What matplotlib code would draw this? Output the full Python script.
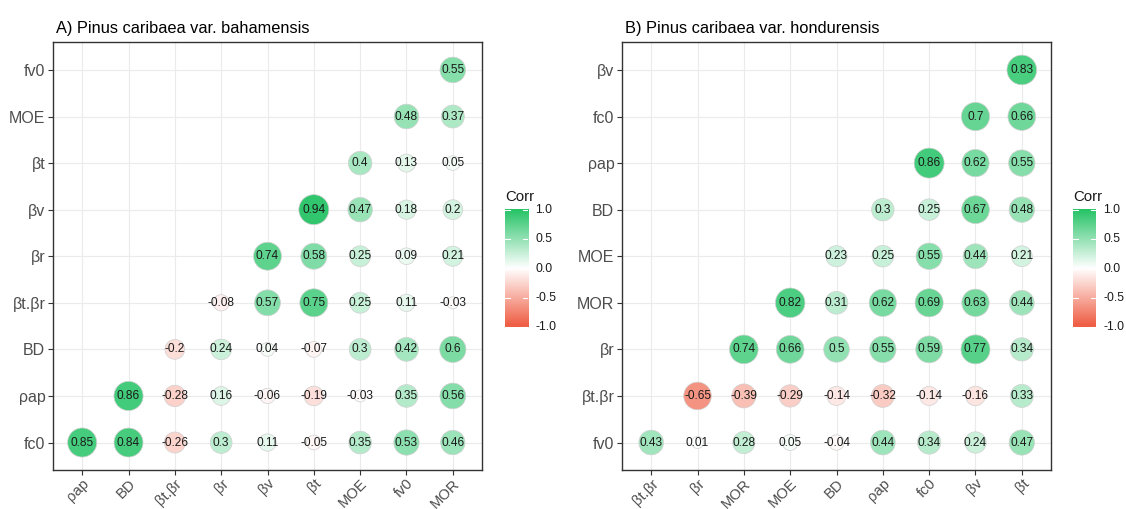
import numpy as np
import matplotlib
matplotlib.use("Agg")
import matplotlib.pyplot as plt
from matplotlib.colors import LinearSegmentedColormap

plt.rcParams['font.family'] = ['Liberation Sans', 'DejaVu Sans']

# ---- Panel A: Pinus caribaea var. bahamensis ----
title_a = "A) Pinus caribaea var. bahamensis"
x_vars_a = ["ρap", "BD", "βt.βr", "βr", "βv", "βt", "MOE", "fv0", "MOR"]
y_vars_a = ["fc0", "ρap", "BD", "βt.βr", "βr", "βv", "βt", "MOE", "fv0"]
# row j (bottom to top) holds the correlations for columns j..8
corr_a = [
    [0.85, 0.84, -0.26, 0.30, 0.11, -0.05, 0.35, 0.53, 0.46],
    [0.86, -0.28, 0.16, -0.06, -0.19, -0.03, 0.35, 0.56],
    [-0.20, 0.24, 0.04, -0.07, 0.30, 0.42, 0.60],
    [-0.08, 0.57, 0.75, 0.25, 0.11, -0.03],
    [0.74, 0.58, 0.25, 0.09, 0.21],
    [0.94, 0.47, 0.18, 0.20],
    [0.40, 0.13, 0.05],
    [0.48, 0.37],
    [0.55],
]

# ---- Panel B: Pinus caribaea var. hondurensis ----
title_b = "B) Pinus caribaea var. hondurensis"
x_vars_b = ["βt.βr", "βr", "MOR", "MOE", "BD", "ρap", "fc0", "βv", "βt"]
y_vars_b = ["fv0", "βt.βr", "βr", "MOR", "MOE", "BD", "ρap", "fc0", "βv"]
corr_b = [
    [0.43, 0.01, 0.28, 0.05, -0.04, 0.44, 0.34, 0.24, 0.47],
    [-0.65, -0.39, -0.29, -0.14, -0.32, -0.14, -0.16, 0.33],
    [0.74, 0.66, 0.50, 0.55, 0.59, 0.77, 0.34],
    [0.82, 0.31, 0.62, 0.69, 0.63, 0.44],
    [0.23, 0.25, 0.55, 0.44, 0.21],
    [0.30, 0.25, 0.67, 0.48],
    [0.86, 0.62, 0.55],
    [0.70, 0.66],
    [0.83],
]

legend_ticks = [1.0, 0.5, 0.0, -0.5, -1.0]

LOW, MID, HIGH = "#EF5A40", "#FFFFFF", "#25C366"
cmap = LinearSegmentedColormap.from_list("corr", [LOW, MID, HIGH])

W, H = 1126, 509
DPI = 100
fig = plt.figure(figsize=(W / DPI, H / DPI), dpi=DPI)
fig.patch.set_facecolor("white")


def frac_rect(left, top, right, bottom):
    return [left / W, 1 - bottom / H, (right - left) / W, (bottom - top) / H]


def fmt(v):
    return f"{round(v, 2):g}"


def draw_panel(rect, x_vars, y_vars, rows, title, title_xy):
    ax = fig.add_axes(rect)
    n = len(x_vars)
    xs, ys, vals = [], [], []
    for j, row in enumerate(rows):
        for k, v in enumerate(row):
            xs.append(j + k)
            ys.append(j)
            vals.append(v)
    xs = np.array(xs)
    ys = np.array(ys)
    vals = np.array(vals)
    a = np.abs(vals)
    t = (a - a.min()) / (a.max() - a.min())
    diam_px = 30.0 * (4 + 6 * np.sqrt(t)) / 10.0
    sizes = (diam_px * 72.0 / DPI) ** 2
    ax.set_axisbelow(True)
    ax.grid(True, color="#EBEBEB", lw=0.8)
    ax.scatter(xs, ys, s=sizes, c=vals, cmap=cmap, vmin=-1, vmax=1,
               edgecolors="#D0D0D0", linewidths=0.5, zorder=3)
    for x, y, v in zip(xs, ys, vals):
        ax.text(x, y, fmt(v), ha="center", va="center", fontsize=8.6,
                color="#1A1A1A", zorder=4)
    ax.set_xlim(-0.63, n - 1 + 0.63)
    ax.set_ylim(-0.59, n - 1 + 0.6)
    ax.set_xticks(range(n))
    ax.set_yticks(range(n))
    ax.set_xticklabels(x_vars, rotation=45, ha="right", va="top",
                       rotation_mode="anchor", fontsize=10.6, color="#4D4D4D")
    ax.set_yticklabels(y_vars, fontsize=11.5, color="#4D4D4D")
    ax.tick_params(length=3.5, width=0.8, color="#333333", pad=2)
    ax.tick_params(axis="x", pad=1)
    for sp in ax.spines.values():
        sp.set_color("#333333")
        sp.set_linewidth(1.0)
    fig.text(title_xy[0] / W, 1 - title_xy[1] / H, title, fontsize=11.8,
             color="black", ha="left", va="baseline")
    return ax


def draw_legend(left, top, right, bottom, label_x, title_y):
    cax = fig.add_axes(frac_rect(left, top, right, bottom))
    grad = np.linspace(-1, 1, 300).reshape(-1, 1)
    cax.imshow(grad, aspect="auto", cmap=cmap, vmin=-1, vmax=1,
               origin="lower", extent=[0, 1, -1.0, 1.0])
    cax.set_xlim(0, 1)
    cax.set_ylim(-1.03, 1.03)
    for v in legend_ticks:
        cax.plot([0, 0.2], [v, v], color="white", lw=0.8)
        cax.plot([0.8, 1], [v, v], color="white", lw=0.8)
    cax.axis("off")
    y_top = top + (bottom - top) * 0.03 / 2.06
    y_bot = bottom - (bottom - top) * 0.03 / 2.06
    for v in legend_ticks:
        y = y_top + (1 - v) / 2 * (y_bot - y_top)
        fig.text(label_x / W, 1 - y / H, f"{v:.1f}", fontsize=8.8,
                 color="#1A1A1A", ha="left", va="center")
    fig.text(left / W, 1 - title_y / H, "Corr", fontsize=10.8,
             color="#1A1A1A", ha="left", va="baseline")


draw_panel(frac_rect(53, 42, 482, 470), x_vars_a, y_vars_a, corr_a,
           title_a, (56, 33))
draw_panel(frac_rect(622, 42, 1051, 470), x_vars_b, y_vars_b, corr_b,
           title_b, (625, 33))

draw_legend(505, 208, 528, 329, 535, 201)
draw_legend(1073, 208, 1096, 329, 1103, 201)

fig.savefig("out.png", dpi=DPI, facecolor="white")
